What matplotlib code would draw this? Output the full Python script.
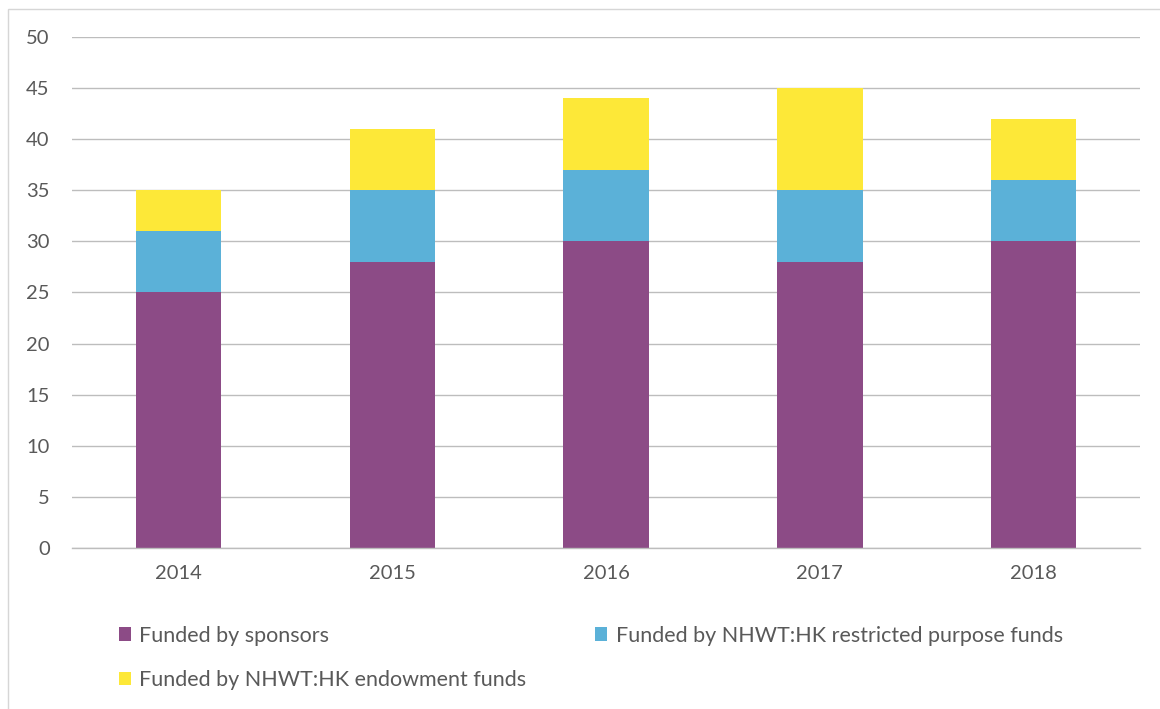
import matplotlib.pyplot as plt
import numpy as np
from matplotlib.patches import Rectangle

plt.rcParams["font.family"] = ["Lato", "DejaVu Sans"]

years = ['2014', '2015', '2016', '2017', '2018']
sponsors = [25, 28, 30, 28, 30]
restricted = [6, 7, 7, 7, 6]
endowment = [4, 6, 7, 10, 6]

labels = ['Funded by sponsors',
          'Funded by NHWT:HK restricted purpose funds',
          'Funded by NHWT:HK endowment funds']
colors = ['#8C4B86', '#5BB1D8', '#FDE838']

text_col = '#595959'

fig = plt.figure(figsize=(11.6, 7.09), dpi=100)
ax = fig.add_axes([0.062, 0.227, 0.921, 0.721])

x = np.arange(len(years))
w = 0.40
b1 = ax.bar(x, sponsors, w, color=colors[0], zorder=2)
b2 = ax.bar(x, restricted, w, bottom=sponsors, color=colors[1], zorder=2)
base = np.array(sponsors) + np.array(restricted)
b3 = ax.bar(x, endowment, w, bottom=base, color=colors[2], zorder=2)

ax.set_xlim(-0.5, len(years) - 0.5)
ax.set_ylim(0, 50)
ax.set_yticks(range(0, 51, 5))
ax.set_xticks(x)
ax.set_xticklabels(years)
ax.yaxis.grid(True, color='#BDBDBD', linewidth=1.0, zorder=0)
ax.set_axisbelow(True)
for s in ['top', 'right', 'left']:
    ax.spines[s].set_visible(False)
ax.spines['bottom'].set_color('#BDBDBD')
ax.spines['bottom'].set_linewidth(1.0)
ax.tick_params(axis='both', length=0, labelsize=14.5, colors=text_col)
ax.tick_params(axis='y', pad=16)
ax.tick_params(axis='x', pad=12)

# legend: row 1 sponsors + restricted, row 2 endowment
leg = fig.legend([b1, b3, b2], [labels[0], labels[2], labels[1]],
                 ncol=2, loc='upper left', bbox_to_anchor=(0.086, 0.145),
                 frameon=False, fontsize=15.5, handlelength=0.56,
                 handleheight=0.56, handletextpad=0.38, columnspacing=3.2,
                 labelspacing=1.12, labelcolor=text_col)

# light frame around the chart area
fig.patches.append(Rectangle((0.007, -0.1), 1.1, 1.088, transform=fig.transFigure,
                             fill=False, edgecolor='#D6D6D6', linewidth=1.0))

fig.savefig('out.png', dpi=100)
